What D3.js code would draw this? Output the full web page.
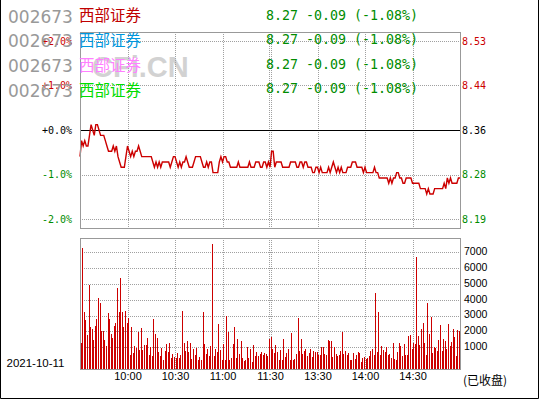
<!DOCTYPE html>
<html>
<head>
<meta charset="utf-8">
<script src="https://cdn.jsdelivr.net/npm/d3@7"></script>
<style>
  body { margin: 0; background: #fff; }
  svg { display: block; }
</style>
</head>
<body>
<svg width="540" height="400"></svg>
<script>
var prevClose = 8.36
var stockCode = "002673"
var stockName = "西部证券"
var tradeDate = "2021-10-11"
var statusText = "(已收盘)"

// one price per minute, 9:30 .. 11:30 then 13:01 .. 15:00 (241 points)
var prices = [
  8.31, 8.34, 8.33, 8.34, 8.33, 8.33, 8.35, 8.37, 8.36, 8.35,
  8.37, 8.37, 8.36, 8.35, 8.35, 8.35, 8.34, 8.33, 8.32, 8.32,
  8.32, 8.33, 8.32, 8.33, 8.31, 8.30, 8.29, 8.29, 8.29, 8.31,
  8.33, 8.32, 8.31, 8.32, 8.31, 8.32, 8.32, 8.33, 8.32, 8.31,
  8.31, 8.31, 8.31, 8.31, 8.31, 8.31, 8.30, 8.29, 8.30, 8.29,
  8.30, 8.29, 8.30, 8.30, 8.30, 8.30, 8.30, 8.29, 8.30, 8.31,
  8.31, 8.30, 8.29, 8.30, 8.29, 8.30, 8.30, 8.31, 8.30, 8.29,
  8.29, 8.29, 8.30, 8.31, 8.31, 8.31, 8.31, 8.30, 8.29, 8.29,
  8.30, 8.29, 8.30, 8.30, 8.28, 8.28, 8.28, 8.28, 8.30, 8.31,
  8.30, 8.31, 8.31, 8.30, 8.30, 8.29, 8.29, 8.29, 8.29, 8.29,
  8.30, 8.29, 8.29, 8.29, 8.29, 8.29, 8.29, 8.30, 8.29, 8.29,
  8.29, 8.30, 8.30, 8.30, 8.29, 8.29, 8.30, 8.30, 8.29, 8.30,
  8.29, 8.32, 8.32, 8.29, 8.30, 8.30, 8.30, 8.30, 8.29, 8.29,
  8.29, 8.29, 8.29, 8.30, 8.30, 8.30, 8.30, 8.29, 8.29, 8.30,
  8.30, 8.29, 8.30, 8.30, 8.29, 8.29, 8.29, 8.28, 8.28, 8.29,
  8.29, 8.28, 8.29, 8.28, 8.28, 8.28, 8.28, 8.29, 8.28, 8.29,
  8.30, 8.29, 8.28, 8.29, 8.28, 8.29, 8.28, 8.28, 8.28, 8.29,
  8.29, 8.29, 8.30, 8.30, 8.30, 8.29, 8.29, 8.29, 8.29, 8.28,
  8.29, 8.28, 8.28, 8.28, 8.28, 8.28, 8.29, 8.28, 8.28, 8.27,
  8.27, 8.27, 8.27, 8.27, 8.27, 8.26, 8.27, 8.26, 8.27, 8.27,
  8.28, 8.28, 8.27, 8.27, 8.26, 8.26, 8.27, 8.27, 8.27, 8.27,
  8.26, 8.26, 8.26, 8.26, 8.26, 8.25, 8.25, 8.25, 8.25, 8.24,
  8.25, 8.24, 8.24, 8.24, 8.25, 8.25, 8.25, 8.25, 8.25, 8.25,
  8.26, 8.25, 8.27, 8.26, 8.27, 8.26, 8.26, 8.26, 8.26, 8.27,
  8.27
]

// volume per minute (lots), 9:31 .. 15:00
var volumes = [
  1260, 7260, 3220, 2740, 1770, 4950, 2270, 2150, 1470, 2360,
  2800, 4130, 3790, 2040, 2040, 1470, 1090, 3180, 2800, 1850,
  1600, 2360, 2550, 4760, 3200, 5390, 3240, 2300, 3300, 2550,
  2820, 530, 2300, 630, 1090, 970, 1980, 840, 2230, 840,
  1140, 1140, 1600, 530, 1030, 460, 2800, 1850, 1600, 720,
  460, 970, 210, 780, 1220, 720, 1280, 340, 590, 400,
  340, 650, 340, 510, 3300, 1260, 780, 1410, 720, 1260,
  270, 900, 530, 970, 210, 400, 210, 3240, 1220, 590,
  900, 460, 1090, 7540, 460, 900, 720, 2480, 840, 210,
  1220, 210, 2990, 1980, 210, 340, 1220, 2300, 340, 1540,
  590, 1410, 340, 150, 210, 1030, 340, 900, 80, 1160,
  460, 720, 460, 600,
  720, 530, 650, 590, 480, 1540, 1660, 900, 650, 1160,
  700, 210, 840, 210, 1540, 400, 620, 900, 210, 1920,
  210, 270, 560, 2860, 780, 1540, 590, 780, 900, 450,
  650, 900, 400, 780, 720, 720, 530, 530, 1030, 1030,
  590, 530, 1470, 1410, 1410, 360, 1030, 590, 460, 530,
  780, 1980, 590, 780, 530, 650, 210, 210, 650, 270,
  530, 720, 650, 80, 340, 400, 270, 340, 460, 780,
  900, 530, 4440, 720, 3240, 530, 1090, 840, 720, 1030,
  530, 590, 340, 1280, 270, 210, 720, 1280, 1090, 460,
  1220, 530, 530, 1730, 1790, 900, 1280, 1220, 6720, 1730,
  1160, 2170, 2550, 1280, 530, 3810, 1850, 2930, 650, 1030,
  970, 780, 1470, 2420, 780, 1540, 1410, 900, 2480, 1090,
  1350, 2170, 1660, 420, 2100, 2040
]

var pctTicks = [2, 1, 0, -1, -2]
var pctLabels = ["+2.0%", "+1.0%", "+0.0%", "-1.0%", "-2.0%"]
var timeTicks = [30, 60, 90, 120, 150, 180, 210]
var timeLabels = ["10:00", "10:30", "11:00", "11:30", "13:30", "14:00", "14:30"]
var volTicks = [1000, 2000, 3000, 4000, 5000, 6000, 7000]
var legendColors = ["#c00000", "#0096dc", "#ff80ff", "#00dc00"]

var left = 80, right = 460
var priceTop = 32, priceBottom = 228
var volTop = 238, volBottom = 369

var red = "#cc0000", green = "#008c00", gridColor = "#a0a0a0"
var mono = "'DejaVu Sans Mono', monospace"
var sans = "'Liberation Sans', Arial, sans-serif"
var cjk = "'Noto Sans CJK SC', sans-serif"

var svg = d3.select("svg")

var x = d3.scaleLinear().domain([0, 240]).range([left, right])
var yPct = d3.scaleLinear().domain([-2.2, 2.2]).range([priceBottom, priceTop])
var yPrice = d3.scaleLinear()
  .domain([prevClose * (1 - 0.022), prevClose * (1 + 0.022)])
  .range([priceBottom, priceTop])
var yVol = d3.scaleLinear().domain([0, 7000]).range([363.1, 252.3])

function signColor(d) {
  if (d > 0) return red
  if (d < 0) return green
  return "#000"
}

// outer frame (no top edge)
svg.append("path")
  .attr("d", "M0.5,0V398.5H538.5V0")
  .attr("fill", "none")
  .attr("stroke", "#000")

// watermark behind the legend
svg.append("text")
  .attr("x", 92).attr("y", 77)
  .style("font", "bold 29px " + sans)
  .attr("fill", "#d2d2d2")
  .text("CFi.CN")

// grid lines
var grid = svg.append("g")
  .attr("stroke", gridColor)
  .attr("stroke-dasharray", "1,1")
  .attr("shape-rendering", "crispEdges")

grid.selectAll(".hp")
  .data(pctTicks.filter(function (d) { return d !== 0 }))
  .enter().append("line")
    .attr("x1", left).attr("x2", right)
    .attr("y1", function (d) { return Math.round(yPct(d)) + 0.5 })
    .attr("y2", function (d) { return Math.round(yPct(d)) + 0.5 })

grid.selectAll(".hv")
  .data(volTicks)
  .enter().append("line")
    .attr("x1", left).attr("x2", right)
    .attr("y1", function (d) { return Math.round(yVol(d)) + 0.5 })
    .attr("y2", function (d) { return Math.round(yVol(d)) + 0.5 })

// vertical lines; the lunch break gets a double line
var vLines = []
timeTicks.forEach(function (t) {
  if (t === 120) {
    vLines.push(Math.round(x(t)) - 1, Math.round(x(t)) + 1)
  } else {
    vLines.push(Math.round(x(t)))
  }
})
;[[priceTop, priceBottom], [volTop, volBottom]].forEach(function (p) {
  grid.selectAll(null)
    .data(vLines)
    .enter().append("line")
      .attr("x1", function (d) { return d + 0.5 })
      .attr("x2", function (d) { return d + 0.5 })
      .attr("y1", p[0]).attr("y2", p[1])
})

// zero line at previous close
svg.append("line")
  .attr("x1", left).attr("x2", right)
  .attr("y1", Math.round(yPrice(prevClose)) + 0.5)
  .attr("y2", Math.round(yPrice(prevClose)) + 0.5)
  .attr("stroke", "#000")
  .attr("shape-rendering", "crispEdges")

// volume bars
svg.append("g")
  .attr("fill", red)
  .attr("shape-rendering", "crispEdges")
  .selectAll("rect")
  .data(volumes)
  .enter().append("rect")
    .attr("x", function (d, i) { return Math.round(x(i + 1)) - 1 })
    .attr("y", function (d) { return yVol(d) })
    .attr("width", 1)
    .attr("height", function (d) { return volBottom - yVol(d) })

// price line
var line = d3.line()
  .x(function (d, i) { return x(i) })
  .y(function (d) { return yPrice(d) })

svg.append("path")
  .datum(prices)
  .attr("d", line)
  .attr("fill", "none")
  .attr("stroke", red)
  .attr("stroke-width", 1.4)

// panel borders
svg.selectAll(".panel")
  .data([[priceTop, priceBottom], [volTop, volBottom]])
  .enter().append("rect")
    .attr("x", left + 0.5)
    .attr("y", function (d) { return d[0] + 0.5 })
    .attr("width", right - left)
    .attr("height", function (d) { return d[1] - d[0] })
    .attr("fill", "none")
    .attr("stroke", "#999")
    .attr("shape-rendering", "crispEdges")

// axes
function styleAxis(g, font) {
  g.select(".domain").remove()
  g.selectAll("text").style("font", font)
}

svg.append("g")
  .attr("transform", "translate(" + left + ",0)")
  .call(d3.axisLeft(yPct).tickValues(pctTicks).tickSize(0).tickPadding(8)
    .tickFormat(function (d, i) { return pctLabels[i] }))
  .call(styleAxis, "10px " + mono)
  .selectAll("text").attr("fill", signColor)

var priceTicks = pctTicks.map(function (p) { return prevClose * (1 + p / 100) })
svg.append("g")
  .attr("transform", "translate(" + right + ",0)")
  .call(d3.axisRight(yPrice).tickValues(priceTicks).tickSize(0).tickPadding(2)
    .tickFormat(function (d) { return d.toFixed(2) }))
  .call(styleAxis, "10px " + mono)
  .selectAll("text").attr("fill", function (d) { return signColor(d - prevClose) })

svg.append("g")
  .attr("transform", "translate(" + right + ",-1)")
  .call(d3.axisRight(yVol).tickValues(volTicks).tickSize(0).tickPadding(4)
    .tickFormat(d3.format("d")))
  .call(styleAxis, "10.5px " + sans)
  .selectAll("text").attr("fill", "#000")

svg.append("g")
  .attr("transform", "translate(0," + volBottom + ")")
  .call(d3.axisBottom(x).tickValues(timeTicks).tickSize(0).tickPadding(3)
    .tickFormat(function (d, i) { return timeLabels[i] }))
  .call(styleAxis, "11px " + sans)
  .selectAll("text").attr("fill", "#000")

svg.append("text")
  .attr("x", 6.5).attr("y", 366.7)
  .style("font", "11.5px " + sans)
  .text(tradeDate)

svg.append("text")
  .attr("x", 463).attr("y", 384.5)
  .style("font", "12px " + cjk)
  .text(statusText)

// legend rows: code, name, last / change / pct
var last = prices[prices.length - 1]
var change = last - prevClose
var quote = last.toFixed(2) + " " + change.toFixed(2) +
  " (" + (change / prevClose * 100).toFixed(2) + "%)"

legendColors.forEach(function (c, k) {
  svg.append("text")
    .attr("x", 8).attr("y", 22.7 + k * 24.6)
    .style("font", "17px 'DejaVu Sans', sans-serif")
    .attr("fill", "#999")
    .text(stockCode)
  svg.append("text")
    .attr("x", 79).attr("y", 20.5 + k * 25)
    .style("font", "15.5px " + cjk)
    .attr("fill", c)
    .text(stockName)
  svg.append("text")
    .attr("x", 266).attr("y", 20 + k * 24.3)
    .style("font", "13.3px " + mono)
    .attr("fill", green)
    .text(quote)
})
</script>
</body>
</html>
